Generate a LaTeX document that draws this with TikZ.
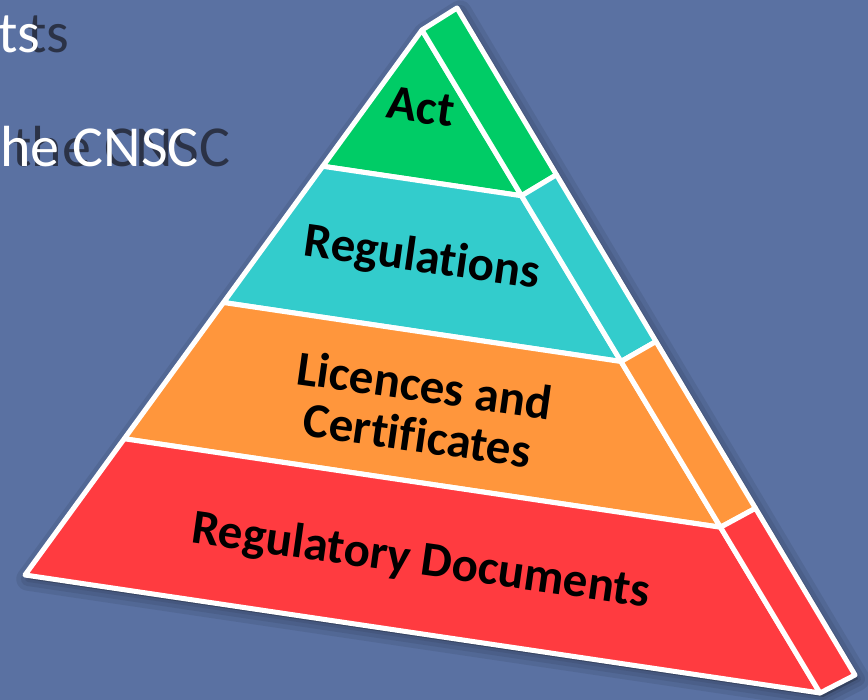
\documentclass[tikz,border=0pt]{standalone}
\usepackage{fontspec}
\setmainfont{Carlito}[Ligatures=NoCommon]
\usetikzlibrary{calc}
\definecolor{slidebg}{RGB}{90,113,162}
\definecolor{actgreen}{RGB}{0,204,102}
\definecolor{regcyan}{RGB}{51,204,204}
\definecolor{licorange}{RGB}{255,150,60}
\definecolor{docred}{RGB}{255,59,64}
\definecolor{ghost}{RGB}{28,30,40}
\tikzset{
  layer/.style={fill=#1, draw=white, line width=4.3pt, line join=round},
  tier/.style={font=\bfseries\fontsize{41.8}{43}\selectfont, text=black, rotate=-8, align=center, inner sep=0pt},
  slidetext/.style={font=\fontsize{49.5}{55}\selectfont, inner sep=0pt, anchor=base west},
}
\begin{document}
\begin{tikzpicture}[x=0.03cm,y=-0.03cm]
  \fill[slidebg] (0,0) rectangle (868,700);
  \useasboundingbox (0,0) rectangle (868,700);
  \clip (0,0) rectangle (868,700);
  % slide text behind the pyramid
  \node[slidetext, text=ghost, opacity=0.75] (tsshadow) at (27,52) {ts};
  \node[slidetext, text=ghost, opacity=0.75] (cnscshadow) at (12,166) {the CNSC};
  \node[slidetext, text=white] (ts) at (-2,52) {ts};
  \node[slidetext, text=white] (cnsc) at (0,166) {he CNSC};
  % corners of the pyramid
  \coordinate (A) at (422,30);
  \coordinate (B) at (457,8);
  \coordinate (L) at (25,575);
  \coordinate (R) at (820,693);
  \coordinate (Rb) at (855,675);
  % soft shadow
  \foreach \w in {20pt,12pt,5pt}
    \filldraw[black, opacity=0.08, line width=\w, line join=round]
      ([shift={(3,4)}]A) -- ([shift={(3,4)}]L) -- ([shift={(3,4)}]R)
      -- ([shift={(3,4)}]Rb) -- ([shift={(3,4)}]B) -- cycle;
  % layers, front face and side face
  \foreach \f/\g/\col in {0/0.25/actgreen,0.25/0.5/regcyan,0.5/0.75/licorange,0.75/1/docred}{
    \filldraw[layer=\col] ($(A)!\f!(L)$) -- ($(A)!\g!(L)$) -- ($(A)!\g!(R)$) -- ($(A)!\f!(R)$) -- cycle;
    \filldraw[layer=\col] ($(A)!\f!(R)$) -- ($(A)!\g!(R)$) -- ($(B)!\g!(Rb)$) -- ($(B)!\f!(Rb)$) -- cycle;
  }
  \node[tier] (act) at (421,107) {Act};
  \node[tier] (regs) at (422,259) {Regulations};
  \node[tier] (lic) at (421,410) {Licences and\\Certificates};
  \node[tier] (docs) at (421,562) {Regulatory Documents};
\end{tikzpicture}
\end{document}
